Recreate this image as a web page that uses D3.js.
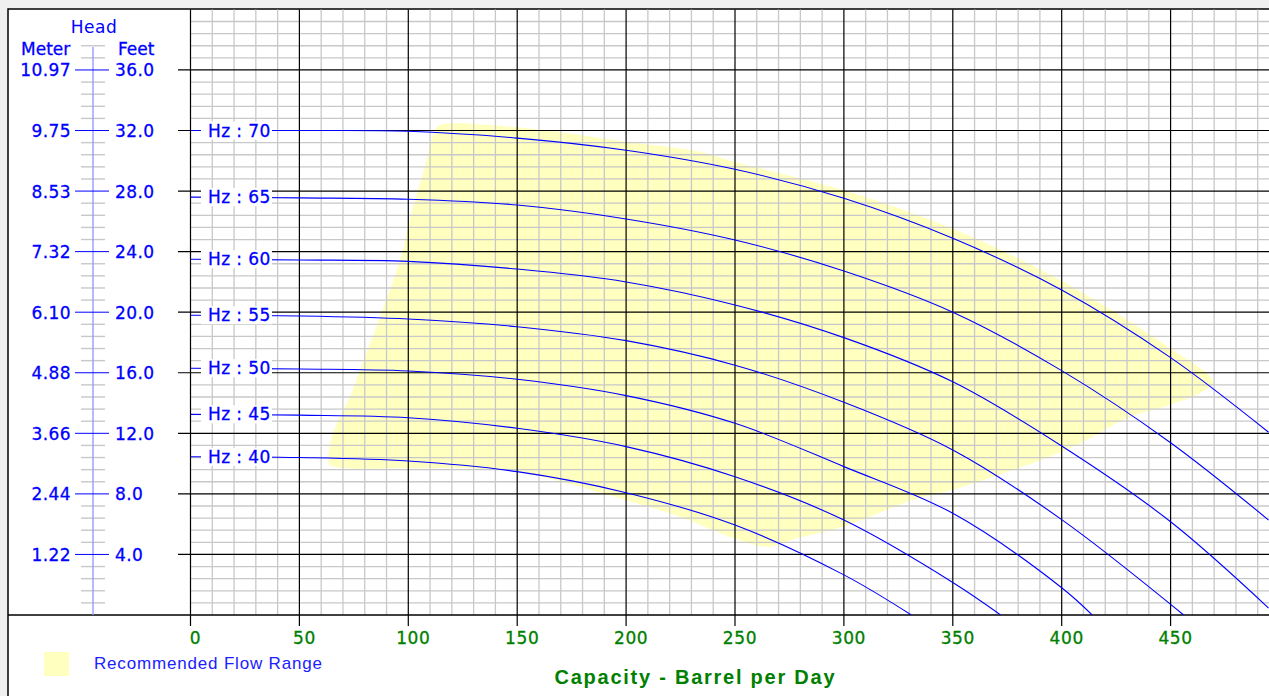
<!DOCTYPE html>
<html>
<head>
<meta charset="utf-8">
<script src="https://cdn.jsdelivr.net/npm/d3@7"></script>
<style>
body{margin:0;background:#f0f0f0;}
svg{display:block;}
</style>
</head>
<body>
<svg id="chart" width="1269" height="696"></svg>
<script>
'use strict'

// pump curves, capacity (bpd) against head (ft), one per frequency
var hzLabels = ['Hz : 70', 'Hz : 65', 'Hz : 60', 'Hz : 55', 'Hz : 50', 'Hz : 45', 'Hz : 40'];

var q70 = [0, 50, 100, 150, 200, 250, 300, 350, 400, 450, 495];
var h70 = [32.0, 32.0, 31.95, 31.5, 30.7, 29.44, 27.52, 24.88, 21.47, 17.0, 12.07];
var q65 = [0, 50, 100, 150, 200, 250, 300, 350, 400, 450, 495];
var h65 = [27.6, 27.55, 27.46, 27.08, 26.16, 24.77, 22.72, 20.0, 16.14, 11.38, 6.27];
var q60 = [0, 50, 100, 150, 200, 250, 300, 350, 400, 450, 495];
var h60 = [23.5, 23.45, 23.36, 22.85, 22.0, 20.48, 18.32, 15.4, 11.16, 6.16, 0.46];
var q55 = [0, 50, 100, 150, 200, 250, 300, 350, 400, 456];
var h55 = [19.8, 19.75, 19.55, 19.04, 18.12, 16.5, 14.05, 10.9, 6.3, 0];
var q50 = [0, 50, 100, 150, 200, 250, 300, 350, 400, 414];
var h50 = [16.3, 16.25, 16.12, 15.57, 14.49, 12.66, 9.8, 6.72, 1.8, 0];
var q45 = [0, 50, 100, 150, 200, 250, 300, 350, 372];
var h45 = [13.25, 13.2, 13.03, 12.33, 11.12, 9.13, 6.27, 2.15, 0];
var q40 = [0, 50, 100, 150, 200, 250, 300, 331];
var h40 = [10.45, 10.4, 10.17, 9.47, 8.08, 5.94, 2.65, 0];

// recommended flow range outline
var rangeQ = [114.6, 149.8, 199.8, 233.9, 249.5, 299.6, 349.5, 400, 449.7, 469.5,
	463.5, 449.7, 429.8, 414.4, 400, 377.6, 349.5, 331.7, 299.6, 278.3, 265.2,
	249.5, 224.7, 199.8, 149.8, 126.8, 99.9, 64,
	63.3, 65.4, 73.2, 77.8, 87, 96.2, 102.2, 106.8, 110.7, 112.3];
var rangeH = [32.36, 32.21, 31.26, 30.6, 29.94, 28.07, 25.54, 22.06, 17.64, 15.39,
	14.66, 13.87, 12.99, 11.78, 10.79, 9.58, 8.26, 7.6, 5.83, 5.07, 4.51,
	5.07, 6.49, 7.6, 9.47, 9.69, 9.69, 9.91,
	10.35, 12.02, 14.42, 16.18, 19.7, 23.45, 26.97, 29.19, 31.37, 32.03];

var xTicks = [0, 50, 100, 150, 200, 250, 300, 350, 400, 450];
var feetTicks = [4, 8, 12, 16, 20, 24, 28, 32, 36];
var feetLabels = ['4.0', '8.0', '12.0', '16.0', '20.0', '24.0', '28.0', '32.0', '36.0'];
var meterLabels = ['1.22', '2.44', '3.66', '4.88', '6.10', '7.32', '8.53', '9.75', '10.97'];

var curves = [[q70, h70], [q65, h65], [q60, h60], [q55, h55], [q50, h50], [q45, h45], [q40, h40]];

function label(sel, color){
	// pixel font look: a hair of stroke
	return sel.attr('fill', color)
		.attr('stroke', color)
		.attr('stroke-width', 0.3);
}

function draw(){
	var svg = d3.select('#chart');

	var x = d3.scaleLinear().domain([0, 495]).range([190.5, 1268.6]);
	var y = d3.scaleLinear().domain([0, 40]).range([615, 9.4]);

	var blue = '#0000ff';
	var green = '#008000';

	svg.append('rect')
		.attr('x', 8).attr('y', 9)
		.attr('width', 1270).attr('height', 700)
		.attr('fill', '#fff')
		.attr('stroke', '#000')
		.attr('stroke-width', 1.5);

	var area = d3.line()
		.x(function(d){ return x(d[0]); })
		.y(function(d){ return y(d[1]); })
		.curve(d3.curveCatmullRomClosed);

	svg.append('path')
		.attr('d', area(d3.zip(rangeQ, rangeH)))
		.attr('fill', '#ffffc0');

	// minor grid
	var minorX = d3.range(10, 495, 10).filter(function(v){ return v % 50 !== 0; });
	var minorY = d3.range(0.8, 40, 0.8).filter(function(v){ return Math.abs(v/4 - Math.round(v/4)) > 0.01; });

	svg.append('g').selectAll('line').data(minorX).join('line')
		.attr('x1', x).attr('x2', x)
		.attr('y1', y(40)).attr('y2', y(0))
		.attr('stroke', '#c8c8c8').attr('stroke-width', 1.3);

	svg.append('g').selectAll('line').data(minorY).join('line')
		.attr('x1', x(0)).attr('x2', 1269)
		.attr('y1', y).attr('y2', y)
		.attr('stroke', '#c8c8c8').attr('stroke-width', 1.3);

	// major grid
	svg.append('g').selectAll('line').data(xTicks).join('line')
		.attr('x1', x).attr('x2', x)
		.attr('y1', y(40)).attr('y2', y(0) + 11)
		.attr('stroke', '#000').attr('stroke-width', 1.2);

	svg.append('g').selectAll('line').data(feetTicks).join('line')
		.attr('x1', 178).attr('x2', 1269)
		.attr('y1', y).attr('y2', y)
		.attr('stroke', '#000').attr('stroke-width', 1.2);

	svg.append('line')
		.attr('x1', 8).attr('x2', 1269)
		.attr('y1', y(0)).attr('y2', y(0))
		.attr('stroke', '#000').attr('stroke-width', 1.5);

	// head scale on the left
	var minorTicks = d3.range(0.8, 38, 0.8).filter(function(v){ return Math.abs(v/4 - Math.round(v/4)) > 0.01; });

	svg.append('g').selectAll('line').data(minorTicks).join('line')
		.attr('x1', 81).attr('x2', 105)
		.attr('y1', y).attr('y2', y)
		.attr('stroke', '#c8c8c8').attr('stroke-width', 1.4);

	svg.append('line')
		.attr('x1', 93).attr('x2', 93)
		.attr('y1', 47).attr('y2', y(0))
		.attr('stroke', '#9a9aff').attr('stroke-width', 1.4);

	svg.append('g').selectAll('line').data(feetTicks).join('line')
		.attr('x1', 75).attr('x2', 109)
		.attr('y1', y).attr('y2', y)
		.attr('stroke', blue).attr('stroke-width', 1);

	var font = 'DejaVu Sans, Verdana, sans-serif';

	label(svg.append('g').selectAll('text').data(feetTicks).join('text')
		.attr('x', 71).attr('y', function(d){ return y(d) + 6.5; })
		.attr('text-anchor', 'end')
		.style('font', '17px ' + font).style('letter-spacing', '0.4px'), blue)
		.text(function(d, i){ return meterLabels[i]; });

	label(svg.append('g').selectAll('text').data(feetTicks).join('text')
		.attr('x', 115).attr('y', function(d){ return y(d) + 6.5; })
		.style('font', '17px ' + font).style('letter-spacing', '0.4px'), blue)
		.text(function(d, i){ return feetLabels[i]; });

	svg.append('text').attr('x', 94).attr('y', 33)
		.attr('text-anchor', 'middle')
		.style('font', '17px ' + font).style('letter-spacing', '0.5px')
		.attr('fill', blue).text('Head');
	label(svg.append('text').attr('x', 21).attr('y', 55)
		.style('font', '17px ' + font), blue).text('Meter');
	label(svg.append('text').attr('x', 118).attr('y', 55)
		.style('font', '17px ' + font), blue).text('Feet');

	// curves
	svg.append('clipPath').attr('id', 'plot')
		.append('rect')
		.attr('x', x(0)).attr('y', y(40))
		.attr('width', 1269 - x(0)).attr('height', y(0) - y(40));

	var line = d3.line()
		.x(function(d){ return x(d[0]); })
		.y(function(d){ return y(d[1]); })
		.curve(d3.curveCatmullRom);

	var cg = svg.append('g').attr('clip-path', 'url(#plot)');
	curves.forEach(function(c){
		cg.append('path')
			.attr('d', line(d3.zip(c[0], c[1])))
			.attr('fill', 'none')
			.attr('stroke', blue)
			.attr('stroke-width', 1.1);
	});

	curves.forEach(function(c, i){
		var yy = y(c[1][0]);
		svg.append('rect')
			.attr('x', 201).attr('y', yy - 9)
			.attr('width', 71).attr('height', 18)
			.attr('fill', '#fff');
		label(svg.append('text')
			.attr('x', 208).attr('y', yy + 6)
			.style('font', '17px ' + font).style('letter-spacing', '0.4px'), blue)
			.text(hzLabels[i]);
	});

	// capacity axis
	label(svg.append('g').selectAll('text').data(xTicks).join('text')
		.attr('x', function(d){ return x(d) + 5; })
		.attr('y', 644)
		.attr('text-anchor', 'middle')
		.style('font', '17px ' + font).style('letter-spacing', '0.6px'), green)
		.text(function(d){ return d; });

	svg.append('text')
		.attr('x', 554.5).attr('y', 684)
		.attr('textLength', 280).attr('lengthAdjust', 'spacing')
		.style('font', 'bold 20px Liberation Sans, Arial, sans-serif')
		.attr('fill', green)
		.text('Capacity - Barrel per Day');

	// legend
	svg.append('rect')
		.attr('x', 44).attr('y', 652)
		.attr('width', 25).attr('height', 24)
		.attr('fill', '#ffffc0');

	svg.append('text')
		.attr('x', 94).attr('y', 669)
		.attr('textLength', 228).attr('lengthAdjust', 'spacing')
		.style('font', '17px Liberation Sans, Arial, sans-serif')
		.attr('fill', '#2020ff')
		.text('Recommended Flow Range');
}

draw();
</script>
</body>
</html>
